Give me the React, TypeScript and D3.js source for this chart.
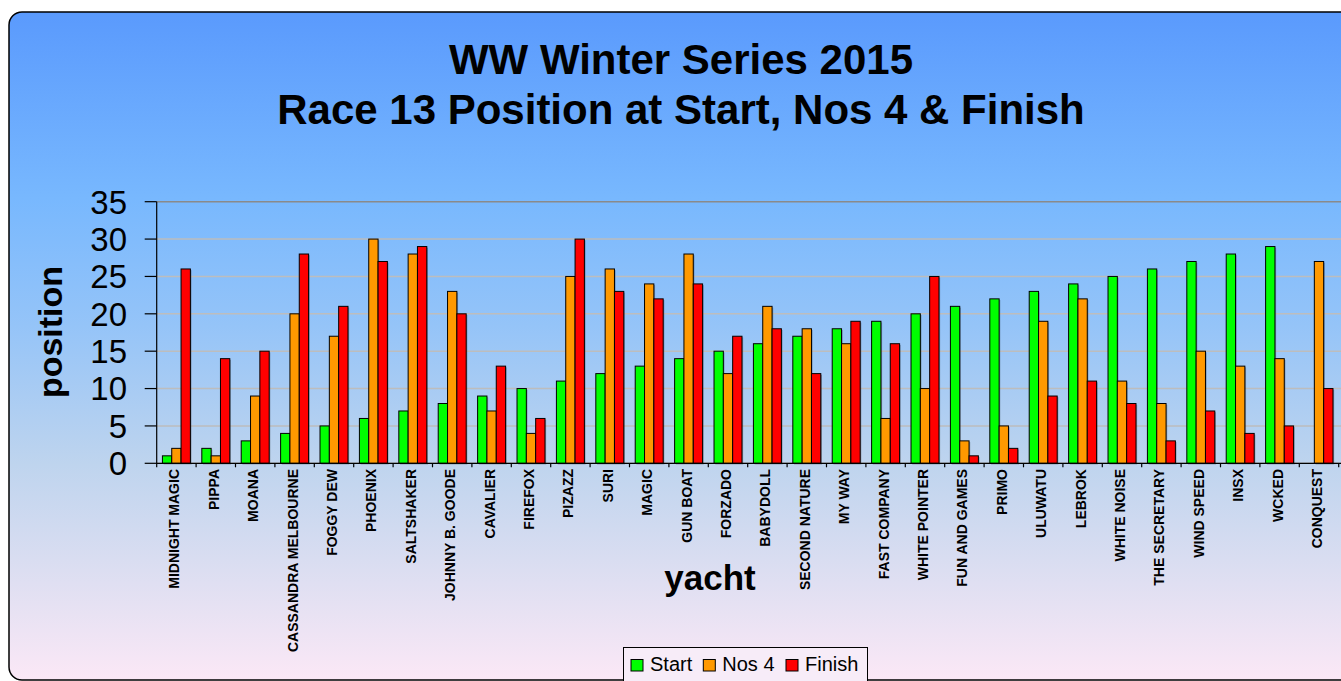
import React from "react";
import * as d3 from "d3";

const yachts = [
  "MIDNIGHT MAGIC", "PIPPA", "MOANA", "CASSANDRA MELBOURNE", "FOGGY DEW", "PHOENIX",
  "SALTSHAKER", "JOHNNY B. GOODE", "CAVALIER", "FIREFOX", "PIZAZZ", "SURI", "MAGIC",
  "GUN BOAT", "FORZADO", "BABYDOLL", "SECOND NATURE", "MY WAY", "FAST COMPANY",
  "WHITE POINTER", "FUN AND GAMES", "PRIMO", "ULUWATU", "LEBROK", "WHITE NOISE",
  "THE SECRETARY", "WIND SPEED", "INSX", "WCKED", "CONQUEST",
];
const startPos: (number | null)[] = [
  1, 2, 3, 4, 5, 6, 7, 8, 9, 10, 11, 12, 13, 14, 15, 16, 17, 18, 19, 20,
  21, 22, 23, 24, 25, 26, 27, 28, 29, null,
];
const nos4Pos: (number | null)[] = [
  2, 1, 9, 20, 17, 30, 28, 23, 7, 4, 25, 26, 24, 28, 12, 21, 18, 16, 6, 10,
  3, 5, 19, 22, 11, 8, 15, 13, 14, 27,
];
const finishPos: (number | null)[] = [
  26, 14, 15, 28, 21, 27, 29, 20, 13, 6, 30, 23, 22, 24, 17, 18, 12, 19, 16, 25,
  1, 2, 9, 11, 8, 3, 7, 4, 5, 10,
];
const seriesNames = ["Start", "Nos 4", "Finish"];
const seriesColors = ["#00ff00", "#ff9900", "#ff0000"];
const yTicks = [0, 5, 10, 15, 20, 25, 30, 35];
const titleLines = ["WW Winter Series 2015", "Race 13 Position at Start, Nos 4 & Finish"];

const W = 1341;
const H = 681;
const FONT = "'Liberation Sans', Arial, Helvetica, sans-serif";

export default function App() {
  const seriesData = [startPos, nos4Pos, finishPos];
  const plotLeft = 156.7;
  const plotRight = 1338.7;
  const plotTop = 201.7;
  const plotBottom = 463.3;

  const x = d3
    .scaleBand<string>()
    .domain(yachts)
    .range([plotLeft, plotRight])
    .paddingInner(0.29)
    .paddingOuter(0.145);
  const xs = d3.scaleBand<string>().domain(seriesNames).range([0, x.bandwidth()]).padding(0);
  const y = d3.scaleLinear().domain([0, 35]).range([plotBottom, plotTop]);
  const step = x.step();

  return (
    <svg
      width={W}
      height={H}
      style={{ position: "absolute", left: 0, top: 0, display: "block" }}
      fontFamily={FONT}
    >
      <defs>
        <linearGradient id="bg" x1="0" y1="12" x2="0" y2="680" gradientUnits="userSpaceOnUse">
          <stop offset="0" stopColor="#5a9afd" />
          <stop offset="0.28" stopColor="#78b8fe" />
          <stop offset="0.47" stopColor="#95c4f8" />
          <stop offset="0.675" stopColor="#bed4ee" />
          <stop offset="0.82" stopColor="#d9ddf1" />
          <stop offset="1" stopColor="#fbe8f6" />
        </linearGradient>
      </defs>
      <rect x={0} y={0} width={W} height={H} fill="#ffffff" />
      <rect x={9} y={12} width={1380} height={668} rx={13} ry={13} fill="url(#bg)" stroke="#000" strokeWidth={1.5} />

      {/* title */}
      {titleLines.map((t, i) => (
        <text key={t} x={681} y={74 + i * 50} textAnchor="middle" fontSize={42} fontWeight="bold" fill="#000">
          {t}
        </text>
      ))}

      {/* gridlines */}
      {yTicks.map((t) => (
        <line
          key={"g" + t}
          x1={plotLeft}
          x2={W}
          y1={y(t)}
          y2={y(t)}
          stroke={t === 35 ? "#8a8a8a" : "#bdbdbd"}
          strokeWidth={1.5}
        />
      ))}

      {/* bars */}
      {yachts.map((name, i) =>
        seriesData.map((arr, s) => {
          const v = arr[i];
          if (v == null) return null;
          const bx = (x(name) as number) + (xs(seriesNames[s]) as number);
          const bw = xs.bandwidth();
          return (
            <g key={name + s}>
              <rect x={bx + 1.2} y={y(v) + 1.2} width={bw} height={y(0) - y(v)} fill="#000" opacity={0.25} />
              <rect
                x={bx}
                y={y(v)}
                width={bw}
                height={y(0) - y(v)}
                fill={seriesColors[s]}
                stroke="#000"
                strokeWidth={1}
              />
            </g>
          );
        })
      )}

      {/* y axis */}
      <line x1={plotLeft} x2={plotLeft} y1={plotTop} y2={plotBottom + 4} stroke="#000" strokeWidth={1.2} />
      {yTicks.map((t) => (
        <g key={"t" + t}>
          <line x1={plotLeft - 12} x2={plotLeft} y1={y(t)} y2={y(t)} stroke="#000" strokeWidth={1.2} />
          <text x={127} y={y(t)} dy="0.36em" textAnchor="end" fontSize={33} fill="#000">
            {t}
          </text>
        </g>
      ))}

      {/* x axis */}
      <line x1={plotLeft} x2={W} y1={plotBottom} y2={plotBottom} stroke="#000" strokeWidth={1.2} />
      {yachts.map((name, i) => (
        <line
          key={"xt" + name}
          x1={plotLeft + step * (i + 1)}
          x2={plotLeft + step * (i + 1)}
          y1={plotBottom}
          y2={plotBottom + 4}
          stroke="#000"
          strokeWidth={1.2}
        />
      ))}
      {yachts.map((name) => {
        const cx = (x(name) as number) + x.bandwidth() / 2 - 2;
        const ty = 469;
        return (
          <text
            key={"xl" + name}
            transform={`translate(${cx},${ty}) rotate(-90)`}
            textAnchor="end"
            dy="0.36em"
            fontSize={14}
            fontWeight="bold"
            fill="#000"
          >
            {name}
          </text>
        );
      })}

      {/* axis titles */}
      <text
        transform={`translate(62,332) rotate(-90)`}
        textAnchor="middle"
        fontSize={34}
        fontWeight="bold"
        fill="#000"
      >
        position
      </text>
      <text x={710} y={590} textAnchor="middle" fontSize={35} fontWeight="bold" fill="#000">
        yacht
      </text>

      {/* legend */}
      <rect x={623.5} y={647.5} width={244} height={40} fill="#f7ecf8" stroke="#000" strokeWidth={1} />
      {seriesNames.map((n, i) => {
        const lx = [631, 703.3, 786][i];
        return (
          <g key={"lg" + n}>
            <rect x={lx} y={659.5} width={12} height={11.5} fill={seriesColors[i]} stroke="#000" strokeWidth={1} />
            <text x={lx + 19} y={671} fontSize={20} fill="#000">
              {n}
            </text>
          </g>
        );
      })}
    </svg>
  );
}
